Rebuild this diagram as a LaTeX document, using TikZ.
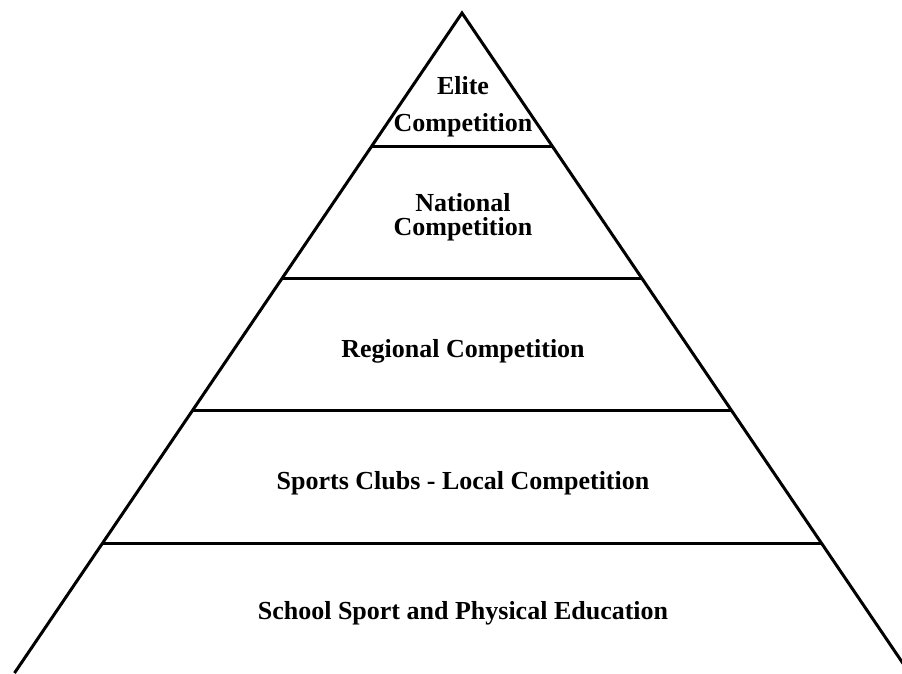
\documentclass[tikz,border=0pt]{standalone}
\usepackage{fontspec}
\setmainfont{Liberation Serif}
\usetikzlibrary{calc}
\tikzset{
  x=1pt, y=-1pt, % pixel-like units, y grows downwards
  pyramid line/.style={line width=3pt}, % outline and level dividers
  level label/.style={font=\fontsize{26}{24}\selectfont\bfseries, align=center}, % text of each level
}

\begin{document}
\begin{tikzpicture}
  \useasboundingbox (0,0) rectangle (902,673);
  \clip (0,0) rectangle (902,673);

  % outline of the pyramid (base lies below the picture)
  \coordinate (apex) at (462,13);
  \coordinate (baseleft) at (14.5,673);
  \coordinate (baseright) at (909.5,673);
  \draw[pyramid line] (baseleft) -- (apex) -- (baseright);

  % dividers between the levels
  \foreach \t/\n in {0.203/1, 0.403/2, 0.603/3, 0.8045/4}{
    \coordinate (left\n) at ($(apex)!\t!(baseleft)$);
    \coordinate (right\n) at ($(apex)!\t!(baseright)$);
    \draw[pyramid line] (left\n) -- (right\n);
  }

  \node[level label] (elite) at (463,107) {Elite\\[13pt]Competition};
  \node[level label] (national) at (463,217) {National\\Competition};
  \node[level label] (regional) at (463,351) {Regional Competition};
  \node[level label] (clubs) at (463,483) {Sports Clubs - Local Competition};
  \node[level label] (school) at (463,613) {School Sport and Physical Education};
\end{tikzpicture}
\end{document}
